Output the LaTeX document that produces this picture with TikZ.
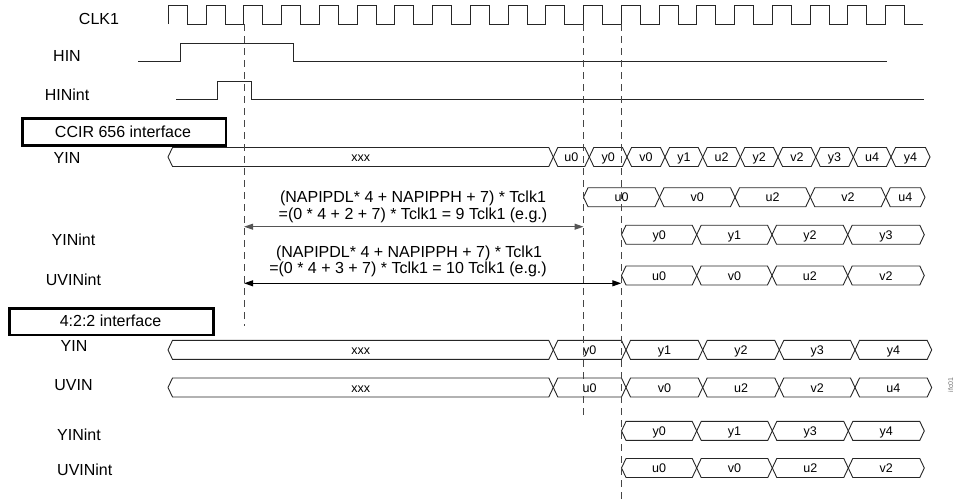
\documentclass[tikz,border=0pt]{standalone}
\usepackage{fontspec}
\setmainfont{Liberation Sans}
\usetikzlibrary{arrows.meta}
\definecolor{guidegray}{RGB}{70,70,70}
\definecolor{arrgray}{RGB}{85,85,85}
\newcommand\buscell[5]{% #1 a, #2 b, #3 yc, #4 label, #5 name
  \draw[busline] (#1,#3) -- ({#1+4.5},{#3-9.5}) -- ({#2-4.5},{#3-9.5}) -- (#2,#3) -- ({#2-4.5},{#3+9.5}) -- ({#1+4.5},{#3+9.5}) -- cycle;
  \node[buslabel] (#5) at ({(#1+#2)/2},{#3+4.7}) {#4};
}
\begin{document}
\begin{tikzpicture}[x=1pt,y=-1pt,
  sig/.style={line width=0.9pt, black!85},
  busline/.style={line width=0.9pt, black!85},
  buslabel/.style={inner sep=0pt, anchor=base, font=\fontsize{12.5}{14}\selectfont},
  siglabel/.style={inner sep=0pt, anchor=base, font=\fontsize{16}{18}\selectfont},
  leftlabel/.style={inner sep=0pt, anchor=base west, font=\fontsize{16}{18}\selectfont},
  notelabel/.style={inner sep=0pt, anchor=base, font=\fontsize{16}{18}\selectfont},
  ifbox/.style={draw=black, line width=2.5pt, inner sep=0pt},
  vguide/.style={guidegray, line width=1.2pt, dash pattern=on 7pt off 5pt},
  dimarrow/.style={line width=1.1pt, {Triangle[length=9pt,width=6pt]}-{Triangle[length=9pt,width=6pt]}}
]
\useasboundingbox (0,0) rectangle (954,499);

% ---- signal labels ----
\node[siglabel] (lclk) at (99,24) {CLK1};
\node[siglabel] (lhin) at (67,61.7) {HIN};
\node[siglabel] (lhinint) at (67,100) {HINint};
\node[siglabel] (lyin1) at (67,163.5) {YIN};
\node[siglabel] (lyinint1) at (73.5,245.7) {YINint};
\node[siglabel] (luvinint1) at (73.5,285) {UVINint};
\node[siglabel] (lyin2) at (74,351.7) {YIN};
\node[siglabel] (luvin2) at (73.5,390.7) {UVIN};
\node[leftlabel] (lyinint2) at (57,440.7) {YINint};
\node[leftlabel] (luvinint2) at (57,475.7) {UVINint};

% ---- interface boxes ----
\draw[ifbox] (22.7,118.3) rectangle (226,145.7);
\node[siglabel] (tccir) at (123,137.3) {CCIR 656 interface};
\draw[ifbox] (9.3,308.3) rectangle (213.3,335);
\node[siglabel] (t422) at (110.5,326) {4:2:2 interface};

% ---- clock ----
\draw[sig] (168.3,24) \foreach \k in {0,...,19} {
  -- ({168.3+37.75*\k},5) -- ({168.3+37.75*\k+18.9},5)
  -- ({168.3+37.75*\k+18.9},24) -- ({168.3+37.75*(\k+1)},24) };

% ---- HIN / HINint ----
\draw[sig] (138.3,61.7) -- (180,61.7) -- (180,43.3) -- (293.3,43.3) -- (293.3,61.7) -- (886.7,61.7);
\draw[sig] (176,99.3) -- (217.7,99.3) -- (217.7,81) -- (251.7,81) -- (251.7,99.3) -- (924,99.3);

% ---- CCIR buses ----
\foreach \a/\b/\t [count=\i] in {168/553.3/xxx, 553.3/589.3/u0, 589.3/627/y0, 627/665/v0, 665/702.7/y1, 702.7/740.3/u2, 740.3/778/y2, 778/815.7/v2, 815.7/853.3/y3, 853.3/891/u4, 891/930/y4}
  {\buscell{\a}{\b}{157}{\t}{ra\i}}
\foreach \a/\b/\t [count=\i] in {583.5/659.5/u0, 659.5/735/v0, 735/810.3/u2, 810.3/885.7/v2, 885.7/925/u4}
  {\buscell{\a}{\b}{197.2}{\t}{rb\i}}
\foreach \a/\b/\t [count=\i] in {621.5/696.7/y0, 696.7/772/y1, 772/847.7/y2, 847.7/924.3/y3}
  {\buscell{\a}{\b}{234.7}{\t}{rc\i}}
\foreach \a/\b/\t [count=\i] in {621.5/696.7/u0, 696.7/772/v0, 772/847.7/u2, 847.7/924.3/v2}
  {\buscell{\a}{\b}{275.5}{\t}{rd\i}}

% ---- 4:2:2 buses ----
\foreach \a/\b/\t [count=\i] in {168/553.3/xxx, 553.3/626/y0, 626/702.7/y1, 702.7/779.3/y2, 779.3/855/y3, 855/931.7/y4}
  {\buscell{\a}{\b}{349.9}{\t}{re\i}}
\foreach \a/\b/\t [count=\i] in {168/553.3/xxx, 553.3/626/u0, 626/702.7/v0, 702.7/779.3/u2, 779.3/855/v2, 855/931.7/u4}
  {\buscell{\a}{\b}{387.5}{\t}{rf\i}}
\foreach \a/\b/\t [count=\i] in {621.5/696.7/y0, 696.7/772.3/y1, 772.3/848.3/y3, 848.3/924.3/y4}
  {\buscell{\a}{\b}{430.9}{\t}{rg\i}}
\foreach \a/\b/\t [count=\i] in {621.5/696.7/u0, 696.7/772.3/v0, 772.3/848.3/u2, 848.3/924.3/v2}
  {\buscell{\a}{\b}{468}{\t}{rh\i}}

% ---- dashed guides ----
\coordinate (g1t) at (244.1,24);  \coordinate (g1b) at (244.1,326);
\coordinate (g2t) at (583.5,24);  \coordinate (g2b) at (583.5,419);
\coordinate (g3t) at (621.3,24);  \coordinate (g3b) at (621.3,499);
\draw[vguide] (g1t) -- (g1b);
\draw[vguide] (g2t) -- (g2b);
\draw[vguide] (g3t) -- (g3b);

% ---- delay annotations ----
\node[notelabel] (n1a) at (413,202.5) {(NAPIPDL* 4 + NAPIPPH + 7) * Tclk1};
\node[notelabel] (n1b) at (413,219.5) {=(0 * 4 + 2 + 7) * Tclk1 = 9 Tclk1 (e.g.)};
\coordinate (a1l) at (244.1,226.7); \coordinate (a1r) at (583.5,226.7);
\draw[dimarrow, arrgray] (a1l) -- (a1r);
\node[notelabel] (n2a) at (409,257) {(NAPIPDL* 4 + NAPIPPH + 7) * Tclk1};
\node[notelabel] (n2b) at (408,273.5) {=(0 * 4 + 3 + 7) * Tclk1 = 10 Tclk1 (e.g.)};
\coordinate (a2l) at (244.1,283.3); \coordinate (a2r) at (621.3,283.3);
\draw[dimarrow, black] (a2l) -- (a2r);

% ---- figure id ----
\node[rotate=90, inner sep=0pt, text=black!55, font=\fontsize{7}{8}\selectfont] (figid) at (950.5,385) {ifc01};
\end{tikzpicture}
\end{document}
